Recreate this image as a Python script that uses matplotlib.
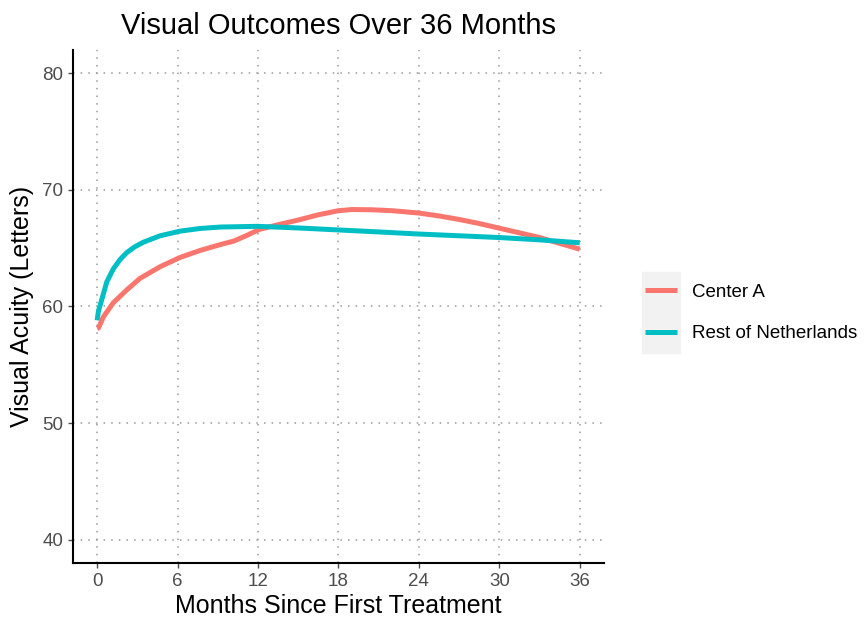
import numpy as np
import matplotlib.pyplot as plt
from matplotlib.patches import Rectangle

plt.rcParams['font.family'] = ['Liberation Sans', 'DejaVu Sans']

# valores
meses_a = [0, 0.1, 0.47, 1.2, 2.2, 3.2, 4.7, 6.2, 7.7, 9.2, 10.2, 11.2, 12.1, 13.5, 15, 16.5,
           18, 19, 20.5, 22, 24, 25.5, 27, 28.5, 30, 31.5, 33, 34.5, 36]
centro_a = [58.1, 58.15, 59.1, 60.3, 61.4, 62.4, 63.4, 64.2, 64.8, 65.3, 65.6, 66.1, 66.6, 67.0, 67.4, 67.85,
            68.2, 68.3, 68.28, 68.2, 68.0, 67.75, 67.45, 67.1, 66.7, 66.3, 65.9, 65.4, 64.9]
meses_r = [0, 0.1, 0.35, 0.72, 1.2, 1.7, 2.2, 2.8, 3.45, 4.7, 6.2, 7.7, 9.2, 12, 15, 18, 21, 24, 27, 30, 33, 36]
resto = [58.8, 59.6, 60.6, 62.1, 63.2, 64.0, 64.6, 65.1, 65.5, 66.05, 66.45, 66.68, 66.8, 66.86, 66.72, 66.55,
         66.38, 66.2, 66.05, 65.9, 65.7, 65.45]

fig = plt.figure(figsize=(8.67, 6.26), dpi=100)
ax = fig.add_axes([0.0842, 0.1006, 0.6124, 0.82])

ax.plot(meses_a, centro_a, color='#F8766D', lw=3.6, label='Center A', solid_capstyle='butt')
ax.plot(meses_r, resto, color='#00BFC4', lw=3.6, label='Rest of Netherlands', solid_capstyle='butt')

ax.set_xlim(-1.8, 37.8)
ax.set_ylim(38, 82)
ax.set_xticks(range(0, 37, 6))
ax.set_yticks([40, 50, 60, 70, 80])
ax.grid(True, linestyle=(0, (1, 4)), color='#999999', lw=1.1)
ax.set_axisbelow(True)

for s in ['top', 'right']:
    ax.spines[s].set_visible(False)
for s in ['left', 'bottom']:
    ax.spines[s].set_linewidth(1.5)
ax.tick_params(colors='#4D4D4D', labelsize=13.5, length=3.5, width=1, pad=3.5, labelcolor='#4D4D4D')

ax.set_title('Visual Outcomes Over 36 Months', fontsize=21, pad=11)
ax.set_xlabel('Months Since First Treatment', fontsize=18, labelpad=3)
ax.set_ylabel('Visual Acuity (Letters)', fontsize=18, labelpad=6)

# fundo cinza das chaves da legenda
fig.add_artist(Rectangle((642 / 867, 1 - 353 / 626), 38 / 867, 81 / 626,
                         transform=fig.transFigure, color='#F2F2F2', zorder=0))
leg = ax.legend(loc='center left', bbox_to_anchor=(645 / 867, 1 - 313 / 626),
                bbox_transform=fig.transFigure, frameon=False, borderpad=0, borderaxespad=0,
                fontsize=13.5, handlelength=1.7, handletextpad=0.8, labelspacing=1.3)

plt.savefig('out.png', dpi=100)
